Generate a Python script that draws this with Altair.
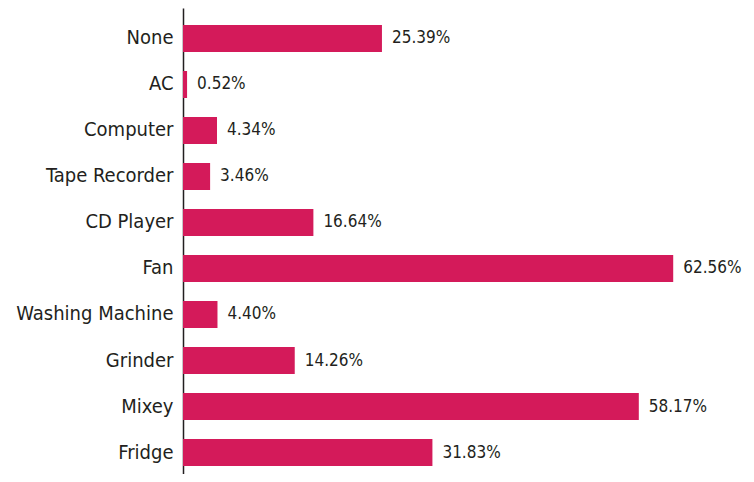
import altair as alt
import pandas as pd

categories = ["None", "AC", "Computer", "Tape Recorder", "CD Player", "Fan",
              "Washing Machine", "Grinder", "Mixey", "Fridge"]
values = [25.39, 0.52, 4.34, 3.46, 16.64, 62.56, 4.40, 14.26, 58.17, 31.83]
labels = ["25.39%", "0.52%", "4.34%", "3.46%", "16.64%", "62.56%", "4.40%", "14.26%", "58.17%", "31.83%"]

df = pd.DataFrame({"cat": categories, "val": values, "lab": labels})

FONT = "DejaVu Sans Condensed, sans-serif"

y = alt.Y("cat:N", sort=categories, title=None,
          scale=alt.Scale(paddingInner=0.413, paddingOuter=0.2715, align=0.68),
          axis=alt.Axis(ticks=False, labelPadding=10, labelFont=FONT, labelFontSize=20,
                        labelColor="#231F20", domainColor="#231F20", domainWidth=1.5,
                        labelLimit=300))
x = alt.X("val:Q", title=None, scale=alt.Scale(domain=[0, 67], nice=False), axis=None)

bars = alt.Chart(df).mark_bar(color="#D41A5A").encode(x=x, y=y)
text = alt.Chart(df).mark_text(align="left", dx=10, font=FONT, fontSize=17,
                               color="#231F20", baseline="middle").encode(x=x, y=y, text="lab:N")

chart = (bars + text).properties(
    width=525, height=466,
    background="white",
    autosize=alt.AutoSizeParams(type="none"),
    padding={"left": 175, "top": 0, "right": 38, "bottom": 0},
).configure_view(stroke=None)

chart.save("out.html", embed_options={"renderer": "svg", "actions": False})
